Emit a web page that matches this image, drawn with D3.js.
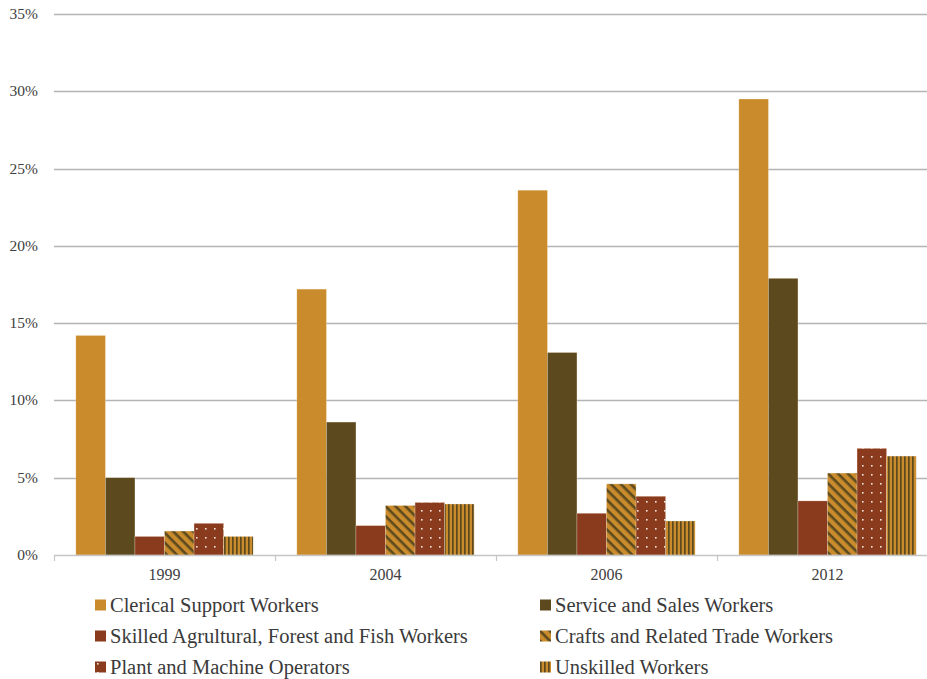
<!DOCTYPE html>
<html>
<head>
<meta charset="utf-8">
<script src="https://cdn.jsdelivr.net/npm/d3@7"></script>
<style>
  html, body { margin: 0; padding: 0; background: #fff; }
</style>
</head>
<body>
<svg id="chart" width="927" height="679"></svg>
<script>
// Share of employment by occupation group, by survey year
const years = ["1999", "2004", "2006", "2012"];
const seriesNames = [
  "Clerical Support Workers",
  "Service and Sales Workers",
  "Skilled Agrultural, Forest and Fish Workers",
  "Crafts and Related Trade Workers",
  "Plant and Machine Operators",
  "Unskilled Workers"
];
const clerical   = [14.2, 17.2, 23.6, 29.5];
const service    = [5.0, 8.6, 13.1, 17.9];
const skilled    = [1.2, 1.9, 2.7, 3.5];
const crafts     = [1.55, 3.2, 4.6, 5.3];
const plant      = [2.05, 3.4, 3.8, 6.9];
const unskilled  = [1.2, 3.3, 2.2, 6.4];
const yTicks = [0, 5, 10, 15, 20, 25, 30, 35];

const seriesValues = [clerical, service, skilled, crafts, plant, unskilled];

const gold = "#c98b2c", olive = "#5c4a1e", rust = "#8a3a1d";

const svg = d3.select("#chart");
const margin = { left: 54, top: 14, bottom: 124 };
const plotRight = 938;
const height = 679;

const x0 = d3.scaleBand().domain(years).range([margin.left, plotRight]);
const x1 = d3.scaleBand().domain(d3.range(seriesNames.length))
  .range([0, x0.bandwidth()]).paddingInner(0).paddingOuter(0.74);
const y = d3.scaleLinear().domain([0, 35]).range([height - margin.bottom, margin.top]);

// Fill patterns
const defs = svg.append("defs");

const diag = defs.append("pattern").attr("id", "pDiag")
  .attr("patternUnits", "userSpaceOnUse").attr("width", 7).attr("height", 7)
  .attr("patternTransform", "rotate(45)");
diag.append("rect").attr("width", 7).attr("height", 7).attr("fill", gold);
diag.append("rect").attr("x", 0).attr("y", 0).attr("width", 7).attr("height", 2.6).attr("fill", olive);

const dots = defs.append("pattern").attr("id", "pDots")
  .attr("patternUnits", "userSpaceOnUse").attr("width", 9).attr("height", 9)
  .attr("x", 3).attr("y", 2);
dots.append("rect").attr("width", 9).attr("height", 9).attr("fill", rust);
dots.append("rect").attr("x", 4).attr("y", 4).attr("width", 1.6).attr("height", 1.6).attr("fill", "#f3e6de");

const vert = defs.append("pattern").attr("id", "pVert")
  .attr("patternUnits", "userSpaceOnUse").attr("width", 4).attr("height", 4);
vert.append("rect").attr("width", 4).attr("height", 4).attr("fill", gold);
vert.append("rect").attr("x", 0).attr("width", 1.7).attr("height", 4).attr("fill", olive);

const fills = [gold, olive, rust, "url(#pDiag)", "url(#pDots)", "url(#pVert)"];

// Gridlines
svg.selectAll("line.grid").data(yTicks.filter(d => d > 0)).join("line")
  .attr("class", "grid")
  .attr("x1", margin.left).attr("x2", plotRight)
  .attr("y1", d => Math.round(y(d)) + 0.5).attr("y2", d => Math.round(y(d)) + 0.5)
  .attr("stroke", "#b4b4b4").attr("stroke-width", 1.3);

// Bars
seriesValues.forEach((vals, s) => {
  svg.selectAll(`rect.s${s}`).data(years.map((yr, i) => ({ yr, v: vals[i] }))).join("rect")
    .attr("class", `s${s}`)
    .attr("x", d => x0(d.yr) + x1(s))
    .attr("width", x1.bandwidth())
    .attr("y", d => y(d.v))
    .attr("height", d => y(0) - y(d.v))
    .attr("fill", fills[s])
    .attr("stroke", "rgba(255,235,215,0.45)")
    .attr("stroke-width", 0.6);
});

// X axis line and ticks
svg.append("line").attr("x1", margin.left).attr("x2", plotRight)
  .attr("y1", y(0) + 0.5).attr("y2", y(0) + 0.5).attr("stroke", "#c6c6c6").attr("stroke-width", 1.5);
svg.selectAll("line.xtick").data([...years.map(d => x0(d)), plotRight]).join("line")
  .attr("class", "xtick")
  .attr("x1", d => Math.round(d) + 0.5).attr("x2", d => Math.round(d) + 0.5)
  .attr("y1", y(0)).attr("y2", y(0) + 6).attr("stroke", "#c6c6c6").attr("stroke-width", 1.2);

// Y axis labels
svg.selectAll("text.ylab").data(yTicks).join("text")
  .attr("class", "ylab")
  .attr("x", 38).attr("y", d => y(d) + 5)
  .attr("text-anchor", "end").attr("font-size", 15.5).attr("fill", "#404040")
  .style("font-family", '"Liberation Serif"')
  .text(d => d + "%");

// X axis labels
svg.selectAll("text.xlab").data(years).join("text")
  .attr("class", "xlab")
  .attr("x", d => x0(d) + x0.bandwidth() / 2).attr("y", y(0) + 25)
  .attr("text-anchor", "middle").attr("font-size", 16).attr("fill", "#404040")
  .style("font-family", '"Liberation Serif"')
  .text(d => d);

// Legend
const legendCols = [95, 540];
const legendRows = [605, 636, 667];
svg.selectAll("rect.key").data(seriesNames).join("rect")
  .attr("class", "key")
  .attr("x", (d, i) => legendCols[i % 2])
  .attr("y", (d, i) => legendRows[Math.floor(i / 2)] - 5.5)
  .attr("width", 11).attr("height", 11)
  .attr("fill", (d, i) => fills[i]);
svg.selectAll("text.key").data(seriesNames).join("text")
  .attr("class", "key")
  .attr("x", (d, i) => legendCols[i % 2] + 15)
  .attr("y", (d, i) => legendRows[Math.floor(i / 2)] + 7)
  .attr("font-size", 20.5).attr("fill", "#3a3a3a")
  .style("font-family", '"Liberation Serif"')
  .text(d => d);
</script>
</body>
</html>
